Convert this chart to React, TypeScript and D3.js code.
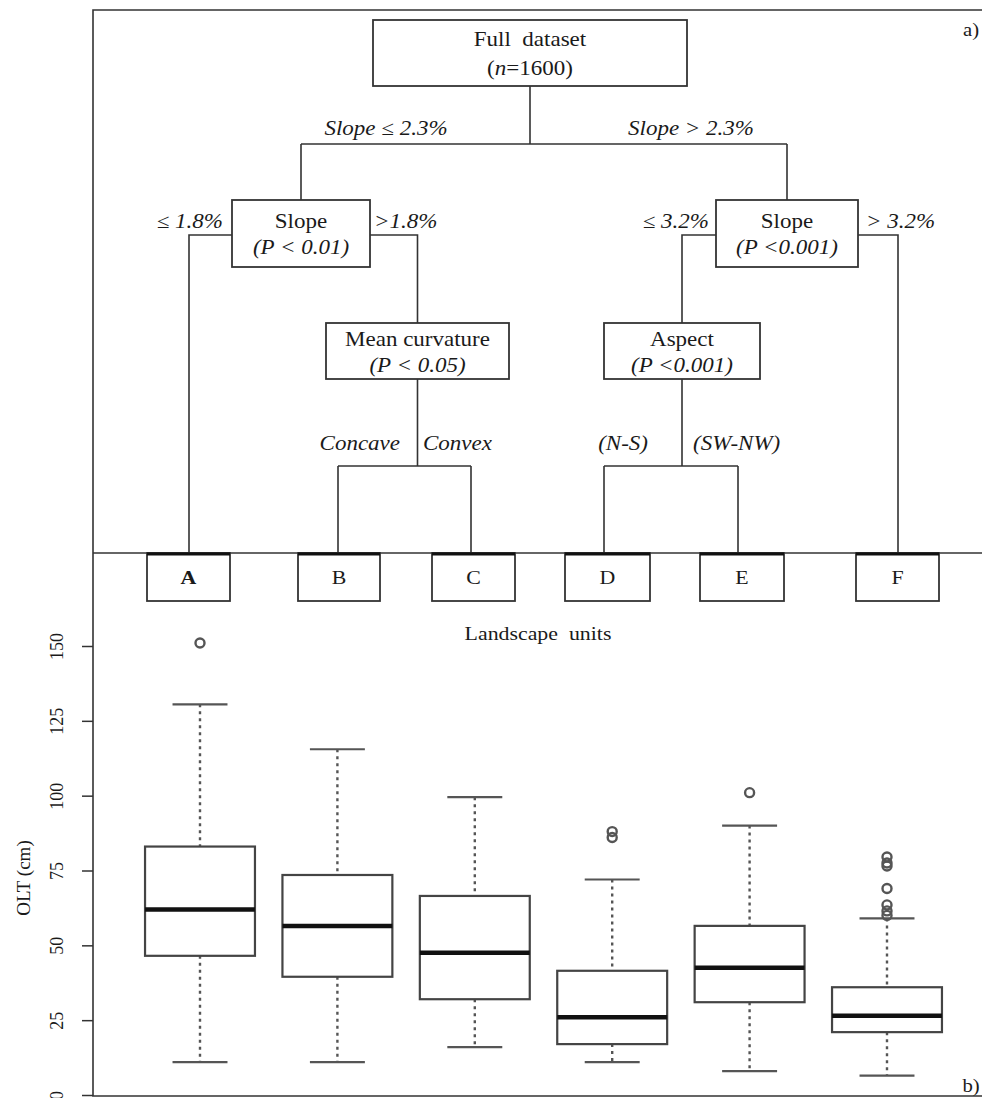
import React, { useEffect, useRef } from 'react'
import * as d3 from 'd3'

// landscape units (leaves of the tree) and their OLT box statistics (cm)
const units = ['A', 'B', 'C', 'D', 'E', 'F']
const whiskerLow = [11, 11, 16, 11, 8, 6.5]
const q1 = [46.5, 39.5, 32, 17, 31, 21]
const medians = [62, 56.5, 47.5, 26, 42.5, 26.5]
const q3 = [83, 73.5, 66.5, 41.5, 56.5, 36]
const whiskerHigh = [130.5, 115.5, 99.5, 72, 90, 59]
const outliers = [[151], [], [], [88, 86], [101], [79.5, 77.5, 76.5, 69, 63.5, 61.5, 60]]
const yTicks = [0, 25, 50, 75, 100, 125, 150]

// split nodes of the regression tree
const nodeTitles = ['Full  dataset', 'Slope', 'Slope', 'Mean curvature', 'Aspect']
const nodeTests = ['(n=1600)', '(P < 0.01)', '(P <0.001)', '(P < 0.05)', '(P <0.001)']
const edgeLabels = ['Slope \u2264 2.3%', 'Slope > 2.3%', '\u2264 1.8%', '>1.8%', '\u2264 3.2%', '> 3.2%', 'Concave', 'Convex', '(N-S)', '(SW-NW)']

const W = 982
const H = 1098
const SX = 1.15 // the original type is a little wide
const FONT = 'Liberation Serif, Times New Roman, serif'
const LINE = '#333'

// diagram layout (box corners) for the tree part
const boxes = [
  { x0: 373, x1: 687, y0: 20, y1: 86 },
  { x0: 232, x1: 370, y0: 200, y1: 267 },
  { x0: 716, x1: 858, y0: 200, y1: 267 },
  { x0: 326, x1: 509, y0: 323, y1: 379 },
  { x0: 604, x1: 760, y0: 323, y1: 379 },
]
const leafBoxes = [
  { x0: 147, x1: 230 },
  { x0: 298, x1: 380 },
  { x0: 432, x1: 515 },
  { x0: 565, x1: 650 },
  { x0: 700, x1: 784 },
  { x0: 856, x1: 939 },
]
const leafStem = [189, 338, 471, 604, 738, 898]

const App = () => {
  const ref = useRef<SVGSVGElement>(null)

  useEffect(() => {
    const svg = d3.select(ref.current)
    svg.selectAll('*').remove()

    const label = (g, x, y, txt, opts: any = {}) =>
      g
        .append('text')
        .attr('transform', `translate(${x},${y}) scale(${opts.sx ?? SX},1)`)
        .attr('text-anchor', opts.anchor || 'middle')
        .attr('font-family', FONT)
        .attr('font-size', opts.size || 20)
        .attr('font-style', opts.italic ? 'italic' : 'normal')
        .attr('font-weight', opts.weight || 'normal')
        .attr('fill', '#1a1a1a')
        .style('white-space', 'pre')
        .text(txt)

    const frame = svg.append('g').attr('fill', 'none').attr('stroke', LINE).attr('stroke-width', 1.6)
    frame.append('path').attr('d', `M${W},10 H93 V1096 H${W}`)
    frame.append('path').attr('d', `M93,553 H${W}`)

    // ---- tree (a) ----
    const tree = svg.append('g')
    const paths = tree.append('g').attr('fill', 'none').attr('stroke', LINE).attr('stroke-width', 1.6)
    const [root, sL, sR, mc, asp] = boxes
    const cx = b => (b.x0 + b.x1) / 2
    const barY = 144
    const sideY = 235
    const lowBarY = 466
    const leafTop = 553

    paths.append('path').attr('d', `M${cx(root)},${root.y1} V${barY} M${cx(sL)},${barY} H${cx(sR)} M${cx(sL)},${barY} V${sL.y0} M${cx(sR)},${barY} V${sR.y0}`)
    paths.append('path').attr('d', `M${sL.x0},${sideY} H${leafStem[0]} V${leafTop} M${sL.x1},${sideY} H${cx(mc)} V${mc.y0}`)
    paths.append('path').attr('d', `M${sR.x0},${sideY} H${cx(asp)} V${asp.y0} M${sR.x1},${sideY} H${leafStem[5]} V${leafTop}`)
    paths.append('path').attr('d', `M${cx(mc)},${mc.y1} V${lowBarY} M${leafStem[1]},${lowBarY} H${leafStem[2]} M${leafStem[1]},${lowBarY} V${leafTop} M${leafStem[2]},${lowBarY} V${leafTop}`)
    paths.append('path').attr('d', `M${cx(asp)},${asp.y1} V${lowBarY} M${leafStem[3]},${lowBarY} H${leafStem[4]} M${leafStem[3]},${lowBarY} V${leafTop} M${leafStem[4]},${lowBarY} V${leafTop}`)

    tree
      .selectAll('rect.node')
      .data(boxes)
      .join('rect')
      .attr('class', 'node')
      .attr('x', d => d.x0)
      .attr('y', d => d.y0)
      .attr('width', d => d.x1 - d.x0)
      .attr('height', d => d.y1 - d.y0)
      .attr('fill', 'white')
      .attr('stroke', LINE)
      .attr('stroke-width', 1.8)

    boxes.forEach((b, i) => {
      const top = b.y0 + (i === 0 ? 26 : i < 3 ? 28 : 23)
      const bottom = b.y0 + (i === 0 ? 55 : i < 3 ? 54 : 49)
      label(tree, cx(b), top, nodeTitles[i])
      if (i === 0) {
        const t = label(tree, cx(b), bottom, '')
        t.append('tspan').text('(')
        t.append('tspan').attr('font-style', 'italic').text('n')
        t.append('tspan').text('=1600)')
      } else {
        label(tree, cx(b), bottom, nodeTests[i], { italic: true })
      }
    })

    const it = { italic: true }
    label(tree, 386, 135, edgeLabels[0], it)
    label(tree, 691, 135, edgeLabels[1], it)
    label(tree, 223, 228, edgeLabels[2], { ...it, anchor: 'end' })
    label(tree, 374, 228, edgeLabels[3], { ...it, anchor: 'start' })
    label(tree, 709, 228, edgeLabels[4], { ...it, anchor: 'end' })
    label(tree, 866, 228, edgeLabels[5], { ...it, anchor: 'start' })
    label(tree, 400, 450, edgeLabels[6], { ...it, anchor: 'end' })
    label(tree, 423, 450, edgeLabels[7], { ...it, anchor: 'start' })
    label(tree, 648, 450, edgeLabels[8], { ...it, anchor: 'end' })
    label(tree, 693, 450, edgeLabels[9], { ...it, anchor: 'start' })
    label(tree, 971, 36, 'a)', { size: 18 })

    // leaves
    const leaves = tree
      .selectAll('g.leaf')
      .data(units)
      .join('g')
      .attr('class', 'leaf')
    leaves
      .append('rect')
      .attr('x', (d, i) => leafBoxes[i].x0)
      .attr('y', leafTop)
      .attr('width', (d, i) => leafBoxes[i].x1 - leafBoxes[i].x0)
      .attr('height', 48)
      .attr('fill', 'white')
      .attr('stroke', LINE)
      .attr('stroke-width', 1.8)
    leaves
      .append('path')
      .attr('d', (d, i) => `M${leafBoxes[i].x0},${leafTop + 1} H${leafBoxes[i].x1}`)
      .attr('stroke', '#111')
      .attr('stroke-width', 3)
    leaves.each(function (d, i) {
      label(d3.select(this), cx(leafBoxes[i]), leafTop + 31, d, { size: 19, weight: i === 0 ? 'bold' : 'normal' })
    })
    label(tree, 538, 640, 'Landscape  units', { size: 19 })

    // ---- boxplot (b) ----
    const x = d3.scaleLinear().domain([1, 6]).range([200, 887])
    const y = d3.scaleLinear().domain([0, 150]).range([1095, 646])
    const bw = 0.8 * (x(2) - x(1))

    const axis = svg
      .append('g')
      .attr('transform', 'translate(93,0)')
      .call(d3.axisLeft(y).tickValues(yTicks).tickSize(11).tickPadding(0).tickFormat(d3.format('d')))
    axis.select('.domain').remove()
    axis.selectAll('line').attr('stroke', LINE).attr('stroke-width', 1.5)
    axis
      .selectAll('text')
      .attr('x', null)
      .attr('dy', null)
      .attr('transform', 'translate(-30,0) rotate(-90)')
      .attr('text-anchor', 'middle')
      .attr('font-family', FONT)
      .attr('font-size', 18)
      .attr('fill', '#1a1a1a')

    svg
      .append('text')
      .attr('transform', `translate(30,878) rotate(-90)`)
      .attr('text-anchor', 'middle')
      .attr('font-family', FONT)
      .attr('font-size', 19)
      .attr('fill', '#1a1a1a')
      .text('OLT (cm)')

    const bp = svg
      .append('g')
      .selectAll('g.box')
      .data(units)
      .join('g')
      .attr('class', 'box')

    bp.append('path')
      .attr('d', (d, i) => `M${x(i + 1)},${y(whiskerHigh[i])} V${y(q3[i])} M${x(i + 1)},${y(q1[i])} V${y(whiskerLow[i])}`)
      .attr('stroke', '#555')
      .attr('stroke-width', 2.4)
      .attr('stroke-dasharray', '3,4')
    bp.append('path')
      .attr('d', (d, i) => `M${x(i + 1) - bw / 4},${y(whiskerHigh[i])} h${bw / 2} M${x(i + 1) - bw / 4},${y(whiskerLow[i])} h${bw / 2}`)
      .attr('stroke', '#555')
      .attr('stroke-width', 2.2)
    bp.append('rect')
      .attr('x', (d, i) => x(i + 1) - bw / 2)
      .attr('y', (d, i) => y(q3[i]))
      .attr('width', bw)
      .attr('height', (d, i) => y(q1[i]) - y(q3[i]))
      .attr('fill', 'white')
      .attr('stroke', '#444')
      .attr('stroke-width', 2.2)
    bp.append('line')
      .attr('x1', (d, i) => x(i + 1) - bw / 2)
      .attr('x2', (d, i) => x(i + 1) + bw / 2)
      .attr('y1', (d, i) => y(medians[i]))
      .attr('y2', (d, i) => y(medians[i]))
      .attr('stroke', '#111')
      .attr('stroke-width', 4.5)
    bp.each(function (d, i) {
      d3.select(this)
        .selectAll('circle')
        .data(outliers[i])
        .join('circle')
        .attr('cx', x(i + 1))
        .attr('cy', v => y(v))
        .attr('r', 4.5)
        .attr('fill', 'none')
        .attr('stroke', '#555')
        .attr('stroke-width', 2.4)
    })

    label(svg, 971, 1092, 'b)', { size: 18 })
  }, [])

  return (
    <svg
      ref={ref}
      width={W}
      height={H}
      style={{ position: 'absolute', left: 0, top: 0, background: 'white' }}
    ></svg>
  )
}

export default App
